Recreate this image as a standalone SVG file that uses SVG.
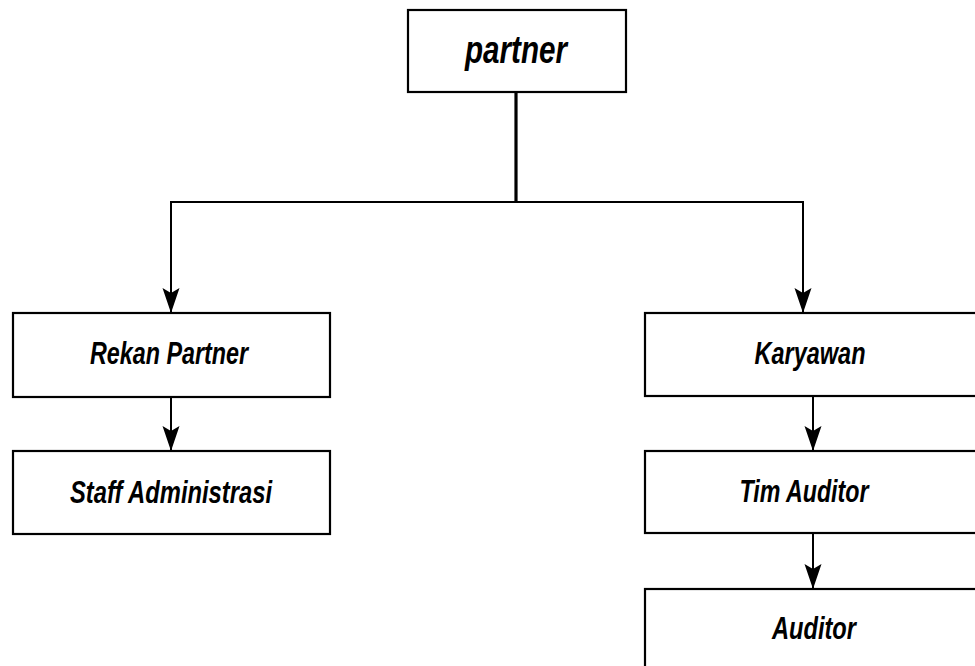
<svg xmlns="http://www.w3.org/2000/svg" width="975" height="666" viewBox="0 0 975 666">
<style>
.box{fill:#fff;stroke:#000;stroke-width:2.2}
.lbl{font-family:"Liberation Sans Narrow","Liberation Sans",Arial,sans-serif;font-weight:bold;font-style:italic;font-size:31px;fill:#000;text-anchor:middle}
.con{fill:none;stroke:#000;stroke-width:2}
</style>
<defs>
<marker id="arr" markerUnits="userSpaceOnUse" markerWidth="25" markerHeight="18" viewBox="0 0 25 18" refX="24" refY="9" orient="auto">
<path d="M0,0.5 L25,9 L0,17.5 L5,9 Z" fill="#000"/>
</marker>
</defs>
<rect width="975" height="666" fill="#fff"/>
<g id="connectors">
<path class="con" d="M516 92 V202" style="stroke-width:3.2"/>
<path class="con" d="M516 202 H171 V312" marker-end="url(#arr)"/>
<path class="con" d="M516 202 H803 V312" marker-end="url(#arr)"/>
<path class="con" d="M171 397 V450" marker-end="url(#arr)"/>
<path class="con" d="M813 396 V450" marker-end="url(#arr)"/>
<path class="con" d="M813 533 V588" marker-end="url(#arr)"/>
</g>
<g id="partner">
<rect class="box" x="408" y="10" width="218" height="82"/>
<text class="lbl" x="516" y="63" style="font-size:39px" textLength="102" lengthAdjust="spacingAndGlyphs">partner</text>
</g>
<g id="rekan-partner">
<rect class="box" x="13" y="313" width="317" height="84"/>
<text class="lbl" x="169" y="364" textLength="158" lengthAdjust="spacingAndGlyphs">Rekan Partner</text>
</g>
<g id="staff-administrasi">
<rect class="box" x="13" y="451" width="317" height="83"/>
<text class="lbl" x="171" y="503" textLength="202" lengthAdjust="spacingAndGlyphs">Staff Administrasi</text>
</g>
<g id="karyawan">
<rect class="box" x="645" y="313" width="345" height="83"/>
<text class="lbl" x="810" y="364" textLength="111" lengthAdjust="spacingAndGlyphs">Karyawan</text>
</g>
<g id="tim-auditor">
<rect class="box" x="645" y="451" width="345" height="82"/>
<text class="lbl" x="804" y="502" textLength="129" lengthAdjust="spacingAndGlyphs">Tim Auditor</text>
</g>
<g id="auditor">
<rect class="box" x="645" y="589" width="345" height="90"/>
<text class="lbl" x="814" y="639" textLength="84" lengthAdjust="spacingAndGlyphs">Auditor</text>
</g>
</svg>
